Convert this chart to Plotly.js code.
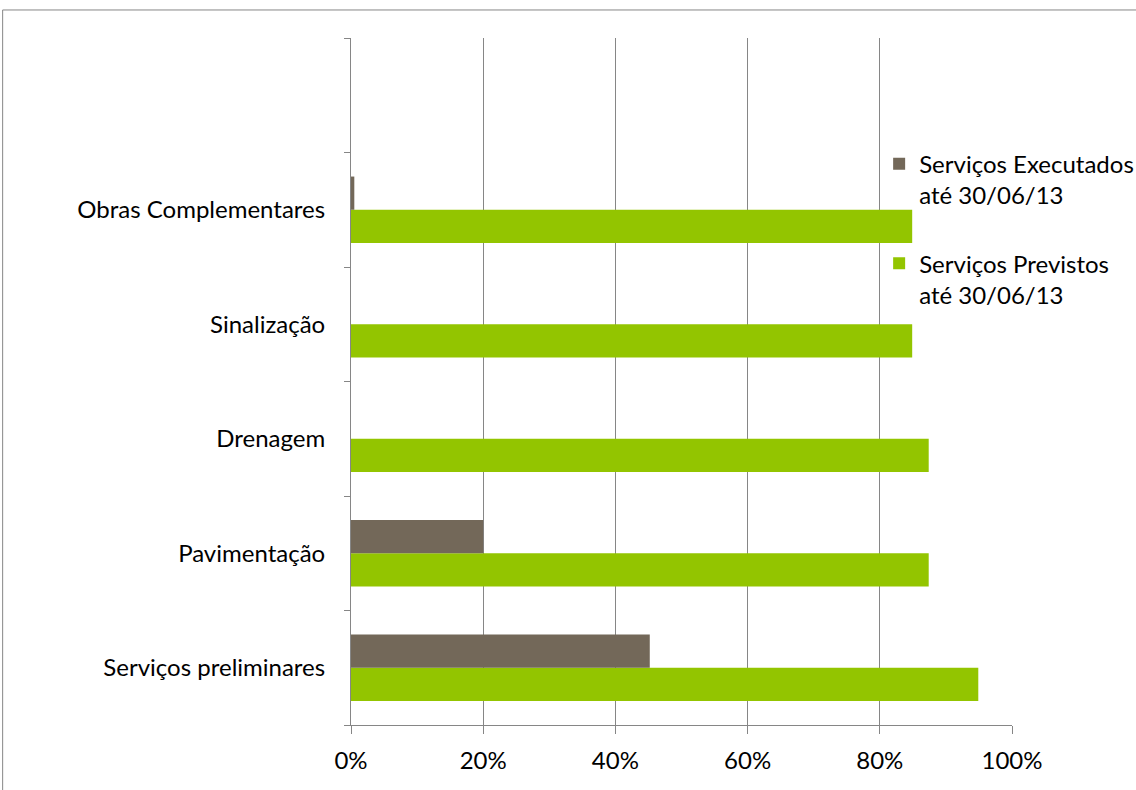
<!DOCTYPE html>
<html>
<head>
<meta charset="utf-8">
<script src="https://cdn.plot.ly/plotly-3.0.1.min.js"></script>
<style>html,body{margin:0;padding:0;background:#fff;}#chart{width:1136px;height:790px;}</style>
</head>
<body>
<div id="chart"></div>
<script>
const categories = ["Serviços preliminares", "Pavimentação", "Drenagem", "Sinalização", "Obras Complementares", " "];
const catData = ["Serviços preliminares", "Pavimentação", "Drenagem", "Sinalização", "Obras Complementares"];
const previstos = [0.949, 0.874, 0.874, 0.849, 0.849];
const executados = [0.452, 0.20, 0, 0, 0.005];
const seriesNames = ["Serviços Previstos<br>até 30/06/13", "Serviços Executados<br>até 30/06/13"];
const xTicks = [0, 0.2, 0.4, 0.6, 0.8, 1.0];

const FONT = "Lato, 'Open Sans', sans-serif";
const traces = [
  {type: "bar", orientation: "h", name: seriesNames[0], y: catData, x: previstos, legendgroup: "p",
   legendrank: 2, marker: {color: "#93C500"}, hoverinfo: "x+y"},
  {type: "bar", orientation: "h", name: seriesNames[1], y: catData, x: executados, legendgroup: "e",
   legendrank: 1, marker: {color: "#736859"}, hoverinfo: "x+y"}
];
const layout = {
  width: 1136, height: 790,
  margin: {l: 351, r: 124, t: 38, b: 65, pad: 0, autoexpand: false},
  paper_bgcolor: "#fff", plot_bgcolor: "#fff",
  font: {family: FONT, size: 24, color: "#000"},
  barmode: "group", bargap: 0.42, bargroupgap: 0,
  showlegend: true,
  legend: {x: 0.799, xanchor: "left", y: 0.849, yanchor: "top", traceorder: "grouped",
           bgcolor: "rgba(0,0,0,0)", valign: "top", tracegroupgap: 34,
           font: {family: FONT, size: 24, color: "#000"}},
  xaxis: {range: [0, 1], tickvals: xTicks, tickformat: ".0%", showgrid: true,
          gridcolor: "#868686", gridwidth: 1, showline: true, linecolor: "#868686",
          ticks: "outside", ticklen: 8, tickcolor: "#868686", zeroline: false,
          ticklabelstandoff: 6, fixedrange: true},
  yaxis: {type: "category", categoryorder: "array", categoryarray: categories,
          range: [-0.5, 5.5], tickson: "boundaries", ticks: "outside", ticklen: 6,
          tickcolor: "#868686", showline: true, linecolor: "#868686", showgrid: false,
          zeroline: false, ticklabelstandoff: 20, fixedrange: true},
  shapes: [
    {type: "line", xref: "paper", yref: "paper", x0: -0.527, x1: 1.2, y0: 1.0408, y1: 1.0408,
     line: {color: "#868686", width: 1}},
    {type: "line", xref: "paper", yref: "paper", x0: -0.527, x1: -0.527, y0: 1.0408, y1: -0.2,
     line: {color: "#868686", width: 1}}
  ]
};
Plotly.newPlot("chart", traces, layout, {displayModeBar: false, staticPlot: true});
</script>
</body>
</html>
